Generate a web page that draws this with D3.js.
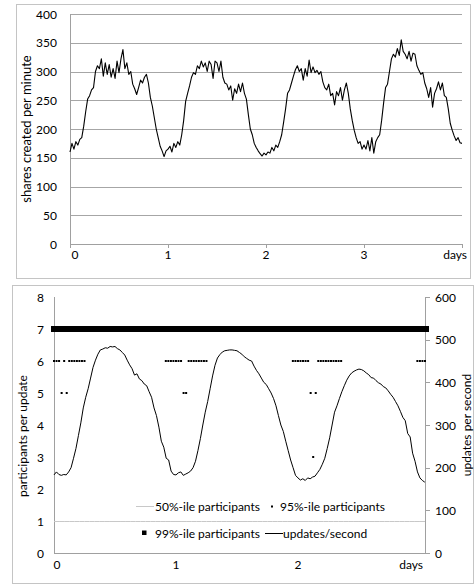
<!DOCTYPE html>
<html>
<head>
<meta charset="utf-8">
<script src="https://cdn.jsdelivr.net/npm/d3@7/dist/d3.min.js"></script>
<style>
  html, body { margin: 0; padding: 0; background: #fff; }
  svg { display: block; }
  text { font-family: Lato, "Liberation Sans", sans-serif; fill: #000; }
</style>
</head>
<body>
<svg id="chart" width="474" height="585"></svg>
<script>
// ---------- DATA ----------
// Top chart: shares created per minute, one value every 0.02 day, days 0..4
const sharesStep = 0.02;
const sharesPerMinute = [
  160,175,165,178,172,182,185,205,230,252,258,268,272,300,310,305,322,292,315,295,
  312,290,305,288,318,298,322,338,305,315,295,300,278,270,260,272,285,280,290,295,
  280,255,240,220,200,185,170,162,152,162,
  165,170,160,175,168,178,172,190,215,248,262,275,290,298,295,310,305,318,308,315,
  300,318,312,288,318,315,300,318,290,280,278,268,275,250,270,262,278,265,280,262,
  252,225,200,190,175,168,162,157,153,158,
  155,160,158,168,162,172,168,178,190,212,235,262,268,280,292,303,310,300,305,285,
  305,292,320,298,308,298,302,295,300,282,272,268,278,258,262,242,265,258,272,250,
  268,280,262,235,215,198,185,175,178,165,
  172,165,180,162,185,158,178,185,190,215,245,272,278,300,322,330,325,340,328,355,
  335,330,322,335,318,332,330,310,302,295,298,280,270,255,272,238,262,270,282,268,
  280,258,255,235,210,198,188,180,185,176,175
];
const topXTicks = [0, 1, 2, 3, 4];
const topXLabels = ["0", "1", "2", "3", "days"];
const topYTicks = [0, 50, 100, 150, 200, 250, 300, 350, 400];

// Bottom chart: updates per second (right axis), one value every 0.02 day
const updStep = 0.02;
const updatesPerSecond = [
  183,190,184,182,184,183,190,200,222,245,275,305,340,365,385,410,435,452,466,476,
  478,481,480,484,483,484,479,476,470,464,452,441,432,417,420,408,404,396,392,378,
  365,340,322,295,262,248,222,218,192,184,
  183,188,190,182,185,188,192,200,215,240,268,300,330,355,385,415,440,457,465,471,
  474,475,476,476,475,474,470,466,460,456,452,450,438,428,420,410,400,395,385,375,
  362,345,322,300,285,262,240,218,200,182,
  176,171,174,170,176,174,178,180,188,196,208,222,245,270,300,330,345,362,378,392,
  405,415,422,426,429,431,430,427,422,418,411,410,404,399,396,390,387,380,372,365,
  355,345,332,318,310,280,272,234,215,190,
  176,170,166
];

// Participants per update: one value per half hour (1/48 day)
const p95Step = 1 / 48;
const p95Participants = [
  6,6,6,5,6,5,6,6,6,6,6,6,6,
  7,7,7,7,7,7,7,7,7,7,7,7,7,7,7,7,7,7,7,7,7,7,7,7,7,7,7,7,7,7,7,
  6,6,6,6,6,6,6,5,5,6,6,6,6,6,6,6,6,
  7,7,7,7,7,7,7,7,7,7,7,7,7,7,7,7,7,7,7,7,7,7,7,7,7,7,7,7,7,7,7,7,7,
  6,6,6,6,6,6,6,5,3,5,6,6,6,6,6,6,6,6,6,6,
  7,7,7,7,7,7,7,7,7,7,7,7,7,7,7,7,7,7,7,7,7,7,7,7,7,7,7,7,7,
  6,6,6,6
];
// one value per hour (1/24 day)
const hourStep = 1 / 24;
const p99Participants = [
  7,7,7,7,7,7,7,7,7,7,7,7,7,7,7,7,7,7,7,7,7,7,7,7,
  7,7,7,7,7,7,7,7,7,7,7,7,7,7,7,7,7,7,7,7,7,7,7,7,
  7,7,7,7,7,7,7,7,7,7,7,7,7,7,7,7,7,7,7,7,7,7,7,7,
  7,7
];
const p50Participants = [
  1,1,1,1,1,1,1,1,1,1,1,1,1,1,1,1,1,1,1,1,1,1,1,1,
  1,1,1,1,1,1,1,1,1,1,1,1,1,1,1,1,1,1,1,1,1,1,1,1,
  1,1,1,1,1,1,1,1,1,1,1,1,1,1,1,1,1,1,1,1,1,1,1,1,
  1,1
];
const botXTicks = [0, 1, 2];
const botXLabels = ["0", "1", "2"];
const leftTicks = [0, 1, 2, 3, 4, 5, 6, 7, 8];
const rightTicks = [0, 100, 200, 300, 400, 500, 600];
const legendItems = ["50%-ile participants", "95%-ile participants", "99%-ile participants", "updates/second"];

// ---------- DRAW ----------
const svg = d3.select("#chart");
const gridColor = "#a6a6a6";
const axisColor = "#a0a0a0";
const borderColor = "#c4c4c4";
const fontSize = 12;

// Top chart frame
svg.append("rect").attr("x", 16.5).attr("y", 4.5).attr("width", 454).attr("height", 274)
  .attr("fill", "none").attr("stroke", borderColor);

const xT = d3.scaleLinear().domain([0, 4]).range([70, 462]);
const yT = d3.scaleLinear().domain([0, 400]).range([244, 14]);
const gTop = svg.append("g");

gTop.selectAll("line.grid").data(topYTicks.filter(v => v > 0)).join("line")
  .attr("class", "grid")
  .attr("x1", xT(0)).attr("x2", xT(4))
  .attr("y1", d => Math.round(yT(d)) + 0.5).attr("y2", d => Math.round(yT(d)) + 0.5)
  .attr("stroke", gridColor).attr("stroke-width", 1);

gTop.append("line").attr("x1", xT(0) + 0.5).attr("x2", xT(0) + 0.5)
  .attr("y1", yT(400)).attr("y2", yT(0)).attr("stroke", axisColor);
gTop.append("line").attr("x1", xT(0)).attr("x2", xT(4))
  .attr("y1", Math.round(yT(0)) + 0.5).attr("y2", Math.round(yT(0)) + 0.5).attr("stroke", axisColor);
gTop.selectAll("line.xt").data(topXTicks).join("line").attr("class", "xt")
  .attr("x1", d => Math.round(xT(d)) + 0.5).attr("x2", d => Math.round(xT(d)) + 0.5)
  .attr("y1", yT(0)).attr("y2", yT(0) + 4).attr("stroke", axisColor);

gTop.selectAll("text.yl").data(topYTicks).join("text").attr("class", "yl")
  .attr("x", 57).attr("y", d => yT(d) + 4.5).attr("text-anchor", "end")
  .attr("font-size", fontSize).text(d => d);

gTop.selectAll("text.xl").data(topXTicks).join("text").attr("class", "xl")
  .attr("x", (d, i) => i === 0 ? xT(d) + 5 : (i === topXTicks.length - 1 ? xT(d) + 5 : xT(d)))
  .attr("y", 259)
  .attr("text-anchor", (d, i) => i === topXTicks.length - 1 ? "end" : "middle")
  .attr("font-size", fontSize).text((d, i) => topXLabels[i]);

gTop.append("text").attr("transform", "translate(31,129) rotate(-90)")
  .attr("text-anchor", "middle").attr("font-size", 13).text("shares created per minute");

const lineT = d3.line().x((d, i) => xT(i * sharesStep)).y(d => yT(d));
gTop.append("path").datum(sharesPerMinute).attr("d", lineT)
  .attr("fill", "none").attr("stroke", "#000").attr("stroke-width", 1.1).attr("stroke-linejoin", "round");

// Bottom chart frame
svg.append("rect").attr("x", 12.5).attr("y", 285.5).attr("width", 461).attr("height", 298)
  .attr("fill", "none").attr("stroke", borderColor);

const xB = d3.scaleLinear().domain([0, 73 / 24]).range([54, 425]);
const yL = d3.scaleLinear().domain([0, 8]).range([553, 297]);
const yR = d3.scaleLinear().domain([0, 600]).range([553, 297]);
const gBot = svg.append("g");

gBot.append("line").attr("x1", 54.5).attr("x2", 54.5).attr("y1", yL(8)).attr("y2", yL(0)).attr("stroke", axisColor);
gBot.append("line").attr("x1", 425.5).attr("x2", 425.5).attr("y1", yR(600)).attr("y2", yR(0)).attr("stroke", axisColor);
gBot.append("line").attr("x1", 54).attr("x2", 425).attr("y1", 553.5).attr("y2", 553.5).attr("stroke", axisColor);
gBot.selectAll("line.rt").data(rightTicks).join("line").attr("class", "rt")
  .attr("x1", 425).attr("x2", 430)
  .attr("y1", d => Math.round(yR(d)) + 0.5).attr("y2", d => Math.round(yR(d)) + 0.5)
  .attr("stroke", axisColor);

gBot.selectAll("text.ll").data(leftTicks).join("text").attr("class", "ll")
  .attr("x", 44).attr("y", d => yL(d) + 4.5).attr("text-anchor", "end")
  .attr("font-size", fontSize).text(d => d);
gBot.selectAll("text.rl").data(rightTicks).join("text").attr("class", "rl")
  .attr("x", 435).attr("y", d => yR(d) + 4.5).attr("text-anchor", "start")
  .attr("font-size", fontSize).text(d => d);
gBot.selectAll("text.bx").data(botXTicks).join("text").attr("class", "bx")
  .attr("x", (d, i) => i === 0 ? xB(d) + 3 : xB(d)).attr("y", 569)
  .attr("text-anchor", "middle").attr("font-size", fontSize).text((d, i) => botXLabels[i]);
gBot.append("text").attr("x", 423).attr("y", 569).attr("text-anchor", "end")
  .attr("font-size", fontSize).text("days");

gBot.append("text").attr("transform", "translate(27,436) rotate(-90)")
  .attr("text-anchor", "middle").attr("font-size", fontSize).text("participants per update");
gBot.append("text").attr("transform", "translate(471,425) rotate(-90)")
  .attr("text-anchor", "middle").attr("font-size", fontSize).text("updates per second");

gBot.append("path").datum(p50Participants)
  .attr("d", d3.line().x((d, i) => xB(i * hourStep)).y(d => Math.round(yL(d)) + 0.5))
  .attr("fill", "none").attr("stroke", "#c8c8c8").attr("stroke-width", 1);

gBot.selectAll("rect.p99").data(p99Participants).join("rect").attr("class", "p99")
  .attr("x", (d, i) => Math.floor(xB(i * hourStep)) - 3).attr("y", d => Math.round(yL(d)) - 3)
  .attr("width", 7).attr("height", 6).attr("fill", "#000").attr("shape-rendering", "crispEdges");

gBot.selectAll("rect.p95").data(p95Participants).join("rect").attr("class", "p95")
  .attr("x", (d, i) => xB(i * p95Step) - 1).attr("y", d => yL(d) - 1)
  .attr("width", 2).attr("height", 2).attr("fill", "#000");

gBot.append("path").datum(updatesPerSecond)
  .attr("d", d3.line().x((d, i) => xB(i * updStep)).y(d => yR(d)))
  .attr("fill", "none").attr("stroke", "#000").attr("stroke-width", 1).attr("stroke-linejoin", "round");

// Legend
const lg = gBot.append("g");
const lfs = 12;
lg.append("line").attr("x1", 136).attr("x2", 154).attr("y1", 506.5).attr("y2", 506.5)
  .attr("stroke", "#c8c8c8").attr("stroke-width", 1);
lg.append("text").attr("x", 155).attr("y", 510.5).attr("font-size", lfs).text(legendItems[0]);
lg.append("rect").attr("x", 271).attr("y", 505.5).attr("width", 2).attr("height", 2).attr("fill", "#000");
lg.append("text").attr("x", 280).attr("y", 510.5).attr("font-size", lfs).text(legendItems[1]);
lg.append("rect").attr("x", 142).attr("y", 530.5).attr("width", 4.5).attr("height", 4.5).attr("fill", "#000");
lg.append("text").attr("x", 155).attr("y", 537.5).attr("font-size", lfs).text(legendItems[2]);
lg.append("line").attr("x1", 265).attr("x2", 283).attr("y1", 533.5).attr("y2", 533.5)
  .attr("stroke", "#000").attr("stroke-width", 1);
lg.append("text").attr("x", 283).attr("y", 537.5).attr("font-size", lfs).text(legendItems[3]);
</script>
</body>
</html>
